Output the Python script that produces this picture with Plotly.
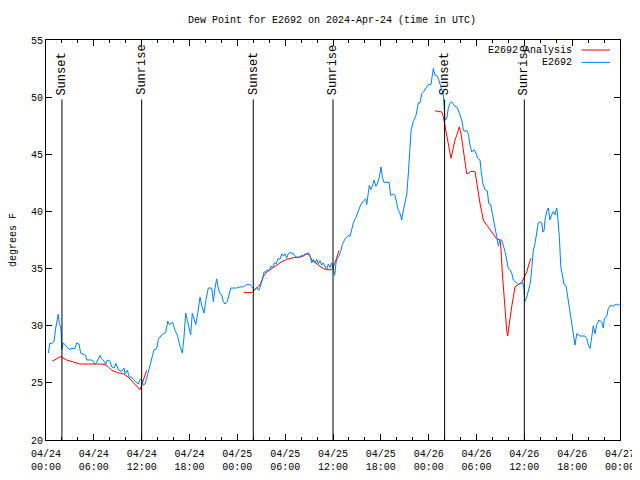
import pandas as pd
import plotly.graph_objects as go

BASE = pd.Timestamp("2024-04-24 00:00")

# Observed dew point (E2692): hours since 2024-04-24 00:00 UTC, degrees F
obs_hours = [0.29, 0.50, 0.63, 1.0, 1.22, 1.42, 1.54, 1.67, 1.84, 1.92, 1.97, 2.17, 2.60, 2.92, 3.14, 3.64,
             3.85, 4.14, 4.35, 4.68, 4.98, 5.11, 5.73, 5.93, 6.15, 6.44, 6.77, 6.99, 7.28, 7.49, 7.69, 8.03,
             8.24, 8.53, 8.78, 8.94, 9.12, 9.50, 9.78, 9.91, 10.20, 10.45, 10.75, 10.95, 11.25, 11.58, 11.79,
             12.00, 12.21, 12.42, 12.63, 12.83, 13.05, 13.33, 13.55, 13.89, 14.09, 14.51, 15.02, 15.27, 15.47,
             15.89, 16.18, 16.47, 16.81, 17.10, 17.31, 17.52, 17.72, 17.94, 18.15, 18.35, 18.57, 18.78, 19.03,
             19.32, 19.53, 19.82, 20.07, 20.36, 20.79, 20.99, 21.20, 21.41, 21.61, 21.83, 22.04, 22.24, 22.45,
             22.74, 22.96, 23.17, 23.92, 24.34, 24.75, 25.18, 25.59, 25.88, 26.13, 26.43, 26.72, 26.93, 27.13,
             27.35, 27.56, 27.76, 28.01, 28.22, 28.44, 28.64, 28.85, 29.14, 29.35, 29.57, 29.77, 29.98, 30.19,
             30.39, 30.61, 31.02, 31.23, 31.45, 31.86, 32.07, 32.28, 32.49, 32.70, 32.90, 33.12, 33.33, 33.53,
             33.74, 33.96, 34.16, 34.37, 34.58, 34.78, 35.00, 35.21, 35.41, 35.63, 35.84, 36.04, 36.21, 36.38,
             36.54, 36.75, 36.97, 37.17, 37.51, 37.92, 38.13, 38.35, 38.55, 38.89, 39.18, 39.48, 39.80, 40.10,
             40.23, 40.43, 40.56, 40.73, 40.98, 41.14, 41.39, 41.61, 41.81, 42.02, 42.19, 42.40, 43.03, 43.24,
             43.49, 43.78, 43.99, 44.19, 44.41, 44.62, 44.82, 45.03, 45.25, 45.45, 45.66, 45.79, 46.07, 46.41,
             46.70, 46.91, 47.13, 47.42, 47.67, 47.95, 48.29, 48.46, 48.58, 48.80, 49.01, 49.21, 49.42, 49.64,
             49.84, 50.05, 50.26, 50.46, 50.68, 50.89, 51.30, 51.59, 51.93, 52.15, 52.35, 52.56, 52.77, 52.97,
             53.19, 53.40, 53.69, 53.94, 54.15, 54.44, 54.57, 54.78, 55.07, 55.36, 55.53, 55.78, 56.03, 56.24,
             56.53, 56.74, 56.95, 57.16, 57.36, 57.58, 57.79, 57.99, 58.20, 58.42, 58.62, 58.96, 59.25, 59.55,
             59.80, 59.96, 60.05, 60.30, 60.50, 60.71, 60.84, 61.00, 61.13, 61.34, 61.55, 61.75, 61.97, 62.18,
             62.31, 62.47, 62.59, 62.81, 63.01, 63.22, 63.43, 63.64, 63.85, 64.06, 64.19, 64.39, 64.57, 64.82,
             64.98, 65.23, 65.44, 65.64, 65.86, 66.07, 66.23, 66.36, 66.57, 66.98, 67.61, 67.82, 68.02, 68.24,
             68.45, 68.65, 68.87, 69.08, 69.37, 69.71, 69.91, 70.03, 70.33, 70.53, 70.83, 71.16, 71.50, 71.79,
             72.0]
obs_values = [27.6, 28.5, 28.4, 28.6, 29.8, 30.8, 31.0, 30.2, 29.9, 29.2, 27.9, 28.5, 28.1, 27.9, 28.0, 28.0,
              28.5, 28.4, 27.6, 27.5, 27.4, 27.0, 27.0, 26.9, 26.6, 26.9, 27.4, 27.1, 26.9, 26.6, 27.0, 26.9,
              26.4, 26.3, 26.7, 26.4, 26.1, 26.0, 26.3, 25.8, 26.1, 25.5, 25.5, 25.3, 25.1, 24.9, 25.3,
              25.3, 24.8, 24.9, 25.4, 26.0, 26.7, 27.3, 27.9, 28.0, 28.8, 29.2, 29.4, 30.4, 30.1,
              30.3, 29.6, 29.2, 28.2, 27.6, 29.0, 31.1, 30.5, 29.9, 29.2, 31.1, 30.6, 30.1, 31.1,
              32.5, 31.8, 31.1, 32.3, 33.3, 33.3, 32.1, 33.3, 34.1, 33.3, 32.8, 32.7, 32.1, 31.9,
              32.1, 32.7, 33.3, 33.3, 33.4, 33.4, 33.6, 33.6, 33.4, 33.1, 33.3, 33.1, 33.5, 34.0,
              34.7, 34.7, 34.9, 34.8, 35.2, 35.1, 35.5, 35.4, 35.9, 35.8, 36.3, 36.1, 36.3, 35.9,
              36.3, 36.4, 36.3, 36.1, 36.0, 36.0, 36.2, 36.1, 36.3, 36.2, 36.4, 36.1, 35.5, 35.8,
              35.5, 35.8, 35.4, 35.7, 35.3, 35.5, 35.2, 34.9, 35.4, 35.1, 35.5, 35.1, 34.4, 35.5,
              35.9, 36.1, 36.5, 37.1, 37.6, 37.9, 37.8, 38.4, 39.0, 39.5, 40.1, 40.6, 40.9, 41.1,
              40.6, 41.7, 42.3, 41.9, 42.3, 42.75, 42.2, 42.5, 43.0, 43.9, 43.0, 42.55, 42.55, 41.4,
              41.5, 41.4, 40.7, 40.1, 39.8, 39.25, 40.1, 40.7, 41.5, 43.3, 45.4, 47.1, 47.85, 48.4,
              49.5, 49.5, 50.3, 50.5, 50.8, 51.1, 51.1, 52.1, 52.5, 51.9, 51.9, 51.65, 51.1, 50.6,
              50.2, 48.0, 48.1, 49.0, 49.5, 49.6, 49.2, 49.1, 48.3, 48.0, 47.1, 47.0, 47.1, 46.8,
              45.8, 45.2, 45.4, 45.1, 44.65, 44.5, 43.6, 42.5, 41.9, 41.8, 40.7, 40.6, 39.7, 39.0,
              37.8, 37.0, 37.5, 37.5, 37.1, 36.5, 35.75, 35.0, 34.9, 34.6, 34.0, 33.8, 33.6, 33.7,
              33.75, 33.3, 32.1, 32.5, 33.0, 33.6, 34.3, 35.5, 36.6, 37.2, 38.1, 39.0, 39.1, 39.0,
              38.2, 38.3, 39.25, 40.0, 40.3, 39.25, 39.7, 40.0, 39.7, 40.3, 39.5, 37.8, 35.2, 34.0,
              33.6, 33.5, 32.5, 31.7, 30.5, 29.6, 29.0, 28.3, 29.3, 29.1, 29.1, 28.9, 28.3, 28.0,
              29.0, 30.0, 29.3, 30.1, 30.5, 30.3, 29.8, 30.6, 30.8, 31.5, 31.8, 31.7, 31.9, 31.8,
              31.9]

# Analysis dew point (E2692 Analysis): three separate segments, None = gap
ana_hours = [0.79, 1.84, 2.60, 3.22, 4.26, 6.77, 7.40, 7.81, 8.24, 8.94, 9.70, 10.32, 10.95, 11.79, 12.0,
             12.29, 12.63,
             12.8,
             24.84, 25.84, 26.22, 26.63, 26.93, 27.26, 27.68, 28.31, 28.94, 29.57, 30.19, 31.02, 31.86, 32.28,
             32.70, 33.03, 33.33, 33.74, 34.37, 34.78, 35.21, 35.84, 36.25, 36.54, 36.75,
             37.0,
             48.80, 49.64, 49.84, 50.05, 50.26, 50.46, 50.68, 50.80, 50.97, 51.30, 51.59, 51.84, 52.06, 52.27,
             52.56, 52.77, 52.97, 53.27, 53.81, 54.02, 54.23, 54.44, 54.65, 54.85, 55.28, 55.69, 56.11, 56.53,
             56.95, 57.08, 57.24, 57.45, 57.62, 57.79, 57.91, 58.04, 58.20, 58.42, 58.62, 58.83, 59.25, 59.67,
             59.96, 60.30, 60.63, 60.84]
ana_values = [26.9, 27.3, 27.0, 26.85, 26.65, 26.65, 26.6, 26.4, 26.1, 25.9, 25.8, 25.5, 25.0, 24.4, 24.8,
              25.4, 26.1,
              None,
              32.9, 32.9, 33.2, 33.4, 33.7, 34.3, 34.7, 35.0, 35.3, 35.6, 35.8, 35.95, 36.0, 36.1,
              36.3, 36.2, 35.75, 35.5, 35.2, 35.0, 34.9, 34.9, 35.5, 36.1, 36.6,
              None,
              48.8, 48.7, 48.3, 47.4, 46.8, 45.8, 45.1, 44.65, 45.2, 46.25, 46.8, 47.4, 46.8, 45.8,
              44.2, 43.3, 43.3, 43.5, 43.5, 42.5, 41.6, 40.7, 40.0, 39.25, 38.8, 38.4, 38.0, 37.6,
              37.5, 36.6, 34.6, 32.5, 30.8, 29.6, 29.1, 29.9, 30.8, 31.7, 32.5, 33.4, 33.6, 33.8,
              34.2, 34.7, 35.5, 35.9]

# Sun events (hours since start)
sun_labels = ["Sunset", "Sunrise", "Sunset", "Sunrise", "Sunset", "Sunrise"]
sun_hours = [2.0, 12.0, 26.0, 36.0, 50.0, 60.0]

y_ticks = [20, 25, 30, 35, 40, 45, 50, 55]
x_tick_hours = list(range(0, 73, 6))

FONT = "Liberation Mono, DejaVu Sans Mono, monospace"


def to_time(hours):
    return [BASE + pd.Timedelta(hours=h) for h in hours]


fig = go.Figure()
fig.add_trace(go.Scatter(x=to_time(ana_hours), y=ana_values, mode="lines",
                         line=dict(color="#ff0000", width=1), name="E2692 Analysis",
                         connectgaps=False))
fig.add_trace(go.Scatter(x=to_time(obs_hours), y=obs_values, mode="lines",
                         line=dict(color="#0080ff", width=1), name="E2692"))

for lab, h in zip(sun_labels, sun_hours):
    t = BASE + pd.Timedelta(hours=h)
    fig.add_shape(type="line", xref="x", yref="y", x0=t, x1=t, y0=20, y1=49.8,
                  line=dict(color="black", width=1))
    fig.add_annotation(x=t, y=50.0, xref="x", yref="y", text=lab, textangle=-90,
                       showarrow=False, xanchor="center", yanchor="bottom",
                       font=dict(family=FONT, size=12, color="black"))

# manual legend (top right, gnuplot style)
leg = [("E2692 Analysis", "#ff0000", 0.975), ("E2692", "#0080ff", 0.944)]
for txt, col, yp in leg:
    fig.add_annotation(x=0.9199, y=yp, xref="paper", yref="paper", text=txt, showarrow=False,
                       xanchor="right", yanchor="middle", font=dict(family=FONT, size=10, color="black"))
    fig.add_shape(type="line", xref="paper", yref="paper", x0=0.9333, x1=0.9826, y0=yp, y1=yp,
                  line=dict(color=col, width=1))

tickvals = to_time(x_tick_hours)
ticktext = [t.strftime("%m/%d") + "<br>" + t.strftime("%H:%M") for t in tickvals]

# the page body adds an 8px offset, so the figure is 632x472 with adjusted margins
fig.update_layout(
    width=632, height=472,
    margin=dict(l=38, r=20, t=32, b=40),
    paper_bgcolor="white", plot_bgcolor="white",
    showlegend=False,
    font=dict(family=FONT, size=10, color="black"),
    title=dict(text="Dew Point for E2692 on 2024-Apr-24 (time in UTC)", x=0.5127, xanchor="center",
               y=0.9746, yanchor="middle", font=dict(family=FONT, size=10, color="black")),
    xaxis=dict(type="date", range=[BASE, BASE + pd.Timedelta(hours=72)], automargin=False,
               tickvals=tickvals, ticktext=ticktext, ticks="inside", ticklen=6,
               tickfont=dict(family=FONT, size=10),
               tickcolor="black", showline=True, linecolor="black", linewidth=1, mirror="allticks",
               showgrid=False, zeroline=False, ticklabelstandoff=4,
               minor=dict(dtick=2 * 3600 * 1000, ticks="inside", ticklen=3, tickcolor="black",
                          showgrid=False)),
    yaxis=dict(range=[20, 55], tickvals=y_ticks, ticks="inside", ticklen=6, tickcolor="black",
               automargin=False, tickfont=dict(family=FONT, size=10),
               showline=True, linecolor="black", linewidth=1, mirror="allticks",
               showgrid=False, zeroline=False,
               title=dict(text="degrees F", standoff=13, font=dict(family=FONT, size=10))),
)

fig.write_html("out.html")
